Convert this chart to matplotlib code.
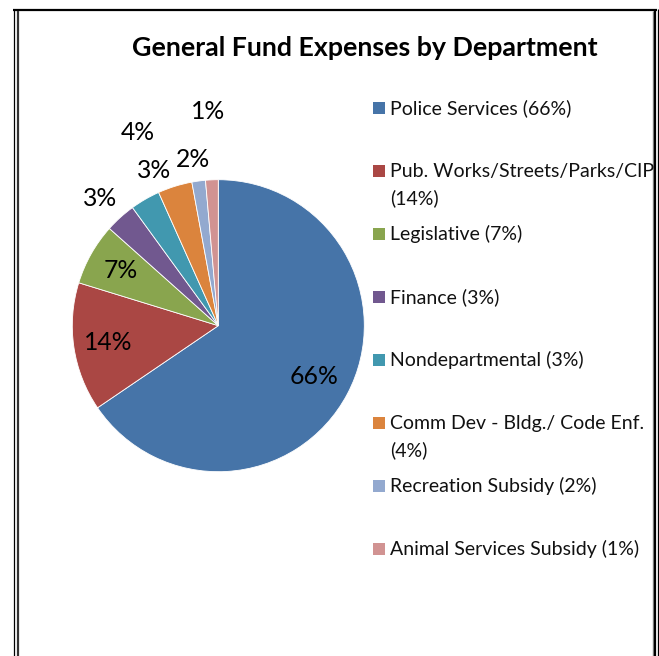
import numpy as np
import matplotlib
matplotlib.use("Agg")
import matplotlib.pyplot as plt
from matplotlib.lines import Line2D
from matplotlib.patches import Rectangle

plt.rcParams['font.family'] = ['Lato', 'DejaVu Sans']

# data
departments = ["Police Services (66%)",
               "Pub. Works/Streets/Parks/CIP\n(14%)",
               "Legislative (7%)",
               "Finance (3%)",
               "Nondepartmental (3%)",
               "Comm Dev - Bldg./ Code Enf.\n(4%)",
               "Recreation Subsidy (2%)",
               "Animal Services Subsidy (1%)"]
shares = [65.5, 14.25, 6.85, 3.4, 3.3, 3.8, 1.5, 1.4]
pct_labels = ["66%", "14%", "7%", "3%", "3%", "4%", "2%", "1%"]
colors = ["#4674A8", "#AA4744", "#89A54E", "#71588F", "#4198AF",
          "#DB843D", "#93A9CF", "#D19392"]

# label placement (fraction of radius, angle nudge in degrees)
label_dist = [0.74, 0.76, 0.77, 1.19, 1.15, 1.43, 1.15, 1.47]
label_nudge = [0, 0, 0, 0.6, -7.7, 5.3, 0.9, 0.2]

W, H = 659, 656
fig = plt.figure(figsize=(W / 100, H / 100), dpi=100)

cx, cy, r = 218.3, 325.7, 146
ax = fig.add_axes([(cx - r) / W, 1 - (cy + r) / H, 2 * r / W, 2 * r / H])
wedges, _ = ax.pie(shares, colors=colors, startangle=90, counterclock=False,
                   wedgeprops=dict(edgecolor="white", linewidth=0.6))
ax.set_xlim(-1, 1)
ax.set_ylim(-1, 1)
ax.axis("off")

for w, lab, d, nud in zip(wedges, pct_labels, label_dist, label_nudge):
    ang = np.deg2rad((w.theta1 + w.theta2) / 2 + nud)
    ax.text(d * np.cos(ang), d * np.sin(ang), lab, ha="center", va="center",
            fontsize=17.8, color="black")

fig.text(364.5 / W, 1 - 48 / H, "General Fund Expenses by Department",
         ha="center", va="center", fontsize=19.3, fontweight="bold")

# hand-drawn legend
y0, step, line_h = 108.3, 63.0, 26.7
for i, (name, col) in enumerate(zip(departments, colors)):
    yc = y0 + i * step
    fig.patches.append(Rectangle((373.3 / W, 1 - (yc + 6) / H), 11.7 / W, 12 / H,
                                 transform=fig.transFigure, facecolor=col,
                                 edgecolor="none"))
    for k, part in enumerate(name.split("\n")):
        fig.text(390.5 / W, 1 - (yc + k * line_h) / H, part, ha="left",
                 va="center", fontsize=14, color="#111111")

# double frame round the chart
def fline(x0, y0_, x1, y1, lw, col="black"):
    fig.add_artist(Line2D([x0 / W, x1 / W], [1 - y0_ / H, 1 - y1 / H],
                          transform=fig.transFigure, color=col, lw=lw,
                          solid_capstyle="butt"))

fline(13, 10, 657, 10, 1.6)
fline(13.5, 9, 13.5, H, 0.9)
fline(18, 11, 18, H, 1.6, "#333333")
fline(652.5, 11, 652.5, H, 1.0, "#888888")
fline(655, 11, 655, H, 1.6)
fline(657.5, 9, 657.5, H, 0.9)

fig.savefig("out.png", dpi=100, facecolor="white")
